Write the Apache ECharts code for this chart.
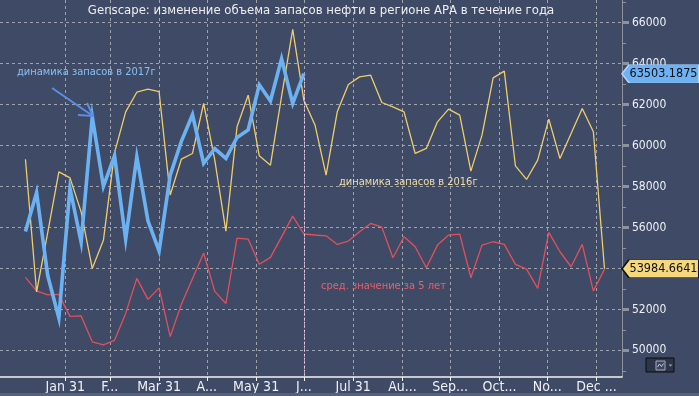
<!DOCTYPE html>
<html><head><meta charset="utf-8">
<script src="https://cdn.jsdelivr.net/npm/echarts@6/dist/echarts.min.js"></script>
<style>html,body{margin:0;padding:0;background:#3e4a66;}#c{width:699px;height:396px;}</style>
</head><body><div id="c"></div>
<script>
// ---- data ----
const monthEnds = ['2017-01-31','2017-02-28','2017-03-31','2017-04-30','2017-05-31','2017-06-30','2017-07-31','2017-08-31','2017-09-30','2017-10-31','2017-11-30','2017-12-31'];
const tickLabels = ['Jan 31','F...','Mar 31','A...','May 31','J...','Jul 31','Au...','Sep...','Oct...','No...','Dec ...'];
const firstWeek = '2017-01-06';
const stocks2017 = [55800,57700,53650,51580,57900,55280,61400,58000,59500,55420,59450,56320,54850,58550,60200,61500,59130,59850,59370,60390,60760,62960,62170,64230,62050,63503.1875];
const stocks2016 = [59330,52850,55750,58710,58420,56760,54000,55370,59650,61640,62600,62750,62630,57580,59330,59610,62049,59300,55820,60910,62455,59496,59040,62400,65670,62211,61000,58553,61642,62975,63349,63431,62097,61886,61642,59610,59854,61154,61772,61480,58748,60504,63301,63626,59008,58341,59285,61284,59366,60585,61805,60667,53984.6641];
const avg5y = [53561,52900,52710,52730,51660,51680,50420,50270,50490,51805,53512,52488,53050,50670,52250,53490,54750,52880,52290,55480,55430,54200,54537,55541,56552,55680,55630,55590,55171,55333,55789,56195,56016,54520,55545,55057,54032,55138,55626,55675,53545,55138,55301,55171,54195,53967,53024,55756,54813,54081,55171,52894,53967];
const yTicks = [50000,52000,54000,56000,58000,60000,62000,64000,66000];
const yMinorTicks = [49000,51000,53000,55000,57000,59000,61000,63000,65000,67000];
const yMin = 48700, yMax = 67100;
const axisStart = '2016-12-21', axisEnd = '2018-01-16';

// ---- helpers ----
const DAY = 86400000;
function iso(t){ return new Date(t).toISOString().slice(0,10); }
function parse(s){ const p = s.split('-').map(Number); return Date.UTC(p[0], p[1]-1, p[2]); }
const categories = [];
for (let t = parse(axisStart); t <= parse(axisEnd); t += DAY) categories.push(iso(t));
const weekDates = stocks2016.map((_, i) => iso(parse(firstWeek) + i * 7 * DAY));
const labelMap = {}; monthEnds.forEach((d, i) => labelMap[d] = tickLabels[i]);
const isMonthEnd = (i, v) => labelMap[v] !== undefined;
const lastCat = categories[categories.length - 1];

const FONT = "'DejaVu Sans Condensed','DejaVu Sans',sans-serif";
const GRID_LINE = {color:'#9fa3ab', type:[3,3], width:1};
const AXIS_GREY = '#8d929c';
const BOX_PATH = 'path://M0,9 L7,0 L77,0 L77,18 L7,18 Z';

function endBox(value, fill, border){
  return {
    data:[{coord:[lastCat, value], value:value}],
    symbol: BOX_PATH, symbolSize:[77,18], symbolOffset:['50%',0], symbolKeepAspect:false,
    itemStyle:{color:fill, borderColor:border, borderWidth:1},
    label:{show:true, position:'inside', offset:[3,0], color:'#101010', fontSize:12.5, fontFamily:FONT,
      formatter: p => String(p.value)},
    silent:true, animation:false
  };
}

const chart = echarts.init(document.getElementById('c'), null, {renderer:'canvas'});
chart.setOption({
  backgroundColor:'#3e4a66',
  animation:false,
  grid:{left:0, right:77, top:0, bottom:19, containLabel:false},
  xAxis:{
    type:'category', data:categories, boundaryGap:false,
    axisLine:{show:true, lineStyle:{color:'#f4f4f4', width:1.5}},
    axisTick:{show:true, interval:isMonthEnd, length:4, lineStyle:{color:'#f4f4f4'}},
    axisLabel:{show:true, interval:isMonthEnd, formatter:v => labelMap[v] || '', color:'#eef1f6', fontSize:14, fontFamily:FONT, margin:3},
    splitLine:{show:true, interval:isMonthEnd, lineStyle:GRID_LINE}
  },
  yAxis:[{
    type:'value', position:'right', min:yMin, max:yMax,
    axisLine:{show:true, lineStyle:{color:AXIS_GREY, width:1}},
    axisTick:{show:true, customValues:yTicks, length:7, lineStyle:{color:AXIS_GREY, width:3}},
    axisLabel:{show:true, customValues:yTicks, formatter:v => String(v), color:'#eef1f6', fontSize:12, fontFamily:FONT, margin:10},
    splitLine:{show:true, lineStyle:GRID_LINE}
  },{
    type:'value', position:'right', min:yMin, max:yMax,
    axisLine:{show:false},
    axisTick:{show:true, customValues:yMinorTicks, length:4, lineStyle:{color:AXIS_GREY, width:1}},
    axisLabel:{show:false}, splitLine:{show:false}
  }],
  series:[{
    name:'сред. значение за 5 лет', type:'line', clip:false, showSymbol:false, symbol:'none',
    data: avg5y.map((v,i) => [weekDates[i], v]),
    lineStyle:{color:'#e2505c', width:1.3}, z:3
  },{
    name:'динамика запасов в 2016г', type:'line', clip:false, showSymbol:false, symbol:'none',
    data: stocks2016.map((v,i) => [weekDates[i], v]),
    lineStyle:{color:'#f0cd68', width:1.3}, z:4,
    markPoint: endBox(stocks2016[stocks2016.length-1], '#f5d77c', '#111111')
  },{
    name:'динамика запасов в 2017г', type:'line', clip:false, showSymbol:false, symbol:'none',
    data: stocks2017.map((v,i) => [weekDates[i], v]),
    lineStyle:{color:'#6cb2f2', width:3.6, join:'miter'}, z:5,
    markLine:{
      silent:true, symbol:['none','none'], animation:false,
      lineStyle:{color:'#f6c8f4', type:[2,2], width:1},
      label:{show:false},
      data:[[{coord:[weekDates[stocks2017.length-1], stocks2017[stocks2017.length-1]]},
             {coord:[weekDates[stocks2017.length-1], yMin]}]]
    },
    markPoint: endBox(stocks2017[stocks2017.length-1], '#6cb2f4', '#a9d3ff')
  }],
  graphic:[
    {type:'text', x:321, y:11, style:{text:'Genscape: изменение объема запасов нефти в регионе АРА в течение года', fill:'#eeeeee', font:'13px '+FONT, textAlign:'center', textVerticalAlign:'middle'}, z:10},
    {type:'text', x:17, y:72, style:{text:'динамика запасов в 2017г', fill:'#88c0f4', font:'11px '+FONT, textAlign:'left', textVerticalAlign:'middle'}, z:10},
    {type:'text', x:339, y:182, style:{text:'динамика запасов в 2016г', fill:'#f2dfa6', font:'11px '+FONT, textAlign:'left', textVerticalAlign:'middle'}, z:10},
    {type:'text', x:321, y:286, style:{text:'сред. значение за 5 лет', fill:'#e8606c', font:'11px '+FONT, textAlign:'left', textVerticalAlign:'middle'}, z:10},
    {type:'polyline', shape:{points:[[52,88],[93,116]]}, style:{stroke:'#5b8ee8', lineWidth:2, fill:null}, z:10},
    {type:'polyline', shape:{points:[[78,115],[93,116],[87,103]]}, style:{stroke:'#5b8ee8', lineWidth:2, fill:null}, z:10},
    {type:'rect', shape:{x:0, y:393, width:699, height:3}, style:{fill:'#56627c'}, z:1},
    {type:'rect', shape:{x:646, y:358, width:28, height:14}, style:{fill:'#2c3549', stroke:'#0c0c0c', lineWidth:1}, z:10},
    {type:'rect', shape:{x:656, y:361, width:9, height:9}, style:{fill:'#3c4660', stroke:'#a3abbb', lineWidth:1}, z:11},
    {type:'polyline', shape:{points:[[657.5,367],[659.5,364],[661.5,366.5],[663.5,363.5]]}, style:{stroke:'#c3cad6', lineWidth:1, fill:null}, z:12},
    {type:'polygon', shape:{points:[[668.5,364.5],[672.5,364.5],[670.5,366.5]]}, style:{fill:'#9aa3b3'}, z:11}
  ]
});
</script>
</body></html>
